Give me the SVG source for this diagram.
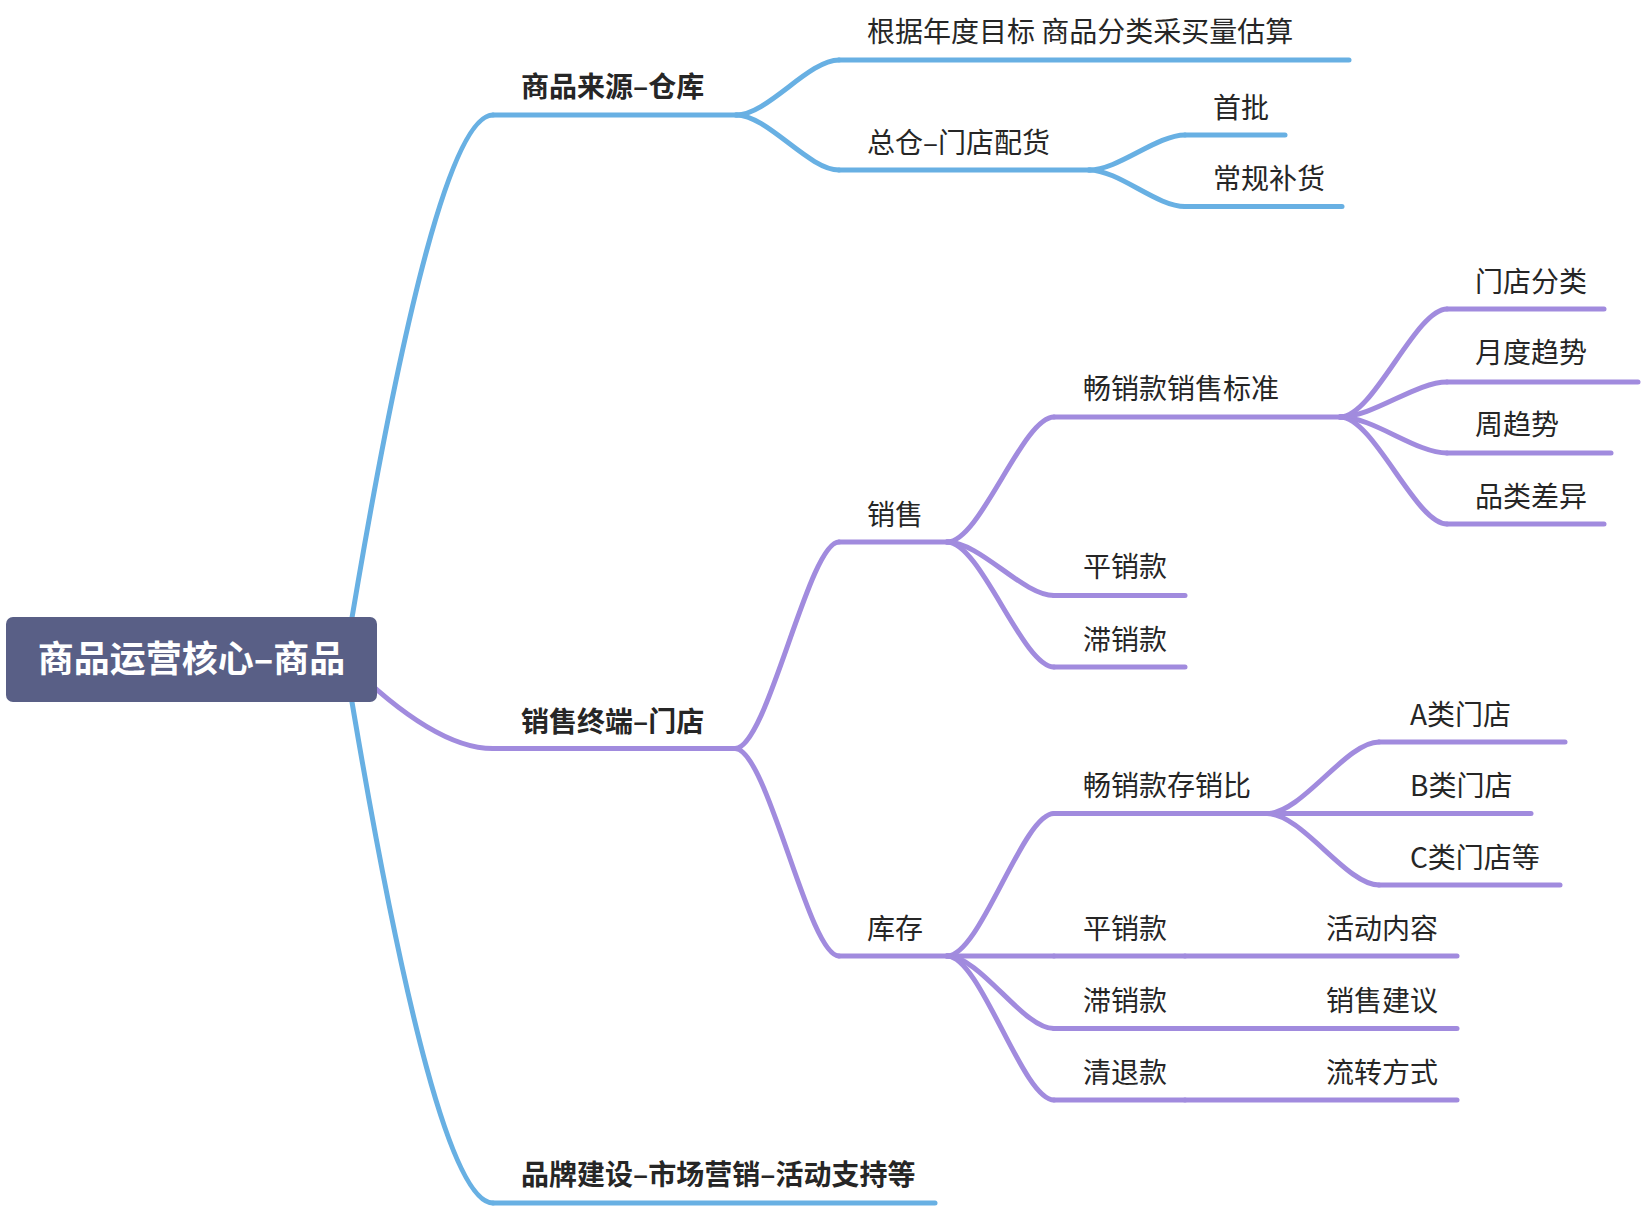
<svg xmlns="http://www.w3.org/2000/svg" width="1644" height="1208" viewBox="0 0 1644 1208">
<style>
text{font-family:"Noto Sans CJK SC","Noto Sans",sans-serif;font-size:28px;fill:#262626}
.b{font-weight:bold}
.root{font-size:36px;font-weight:bold;fill:#ffffff}
.cb{fill:none;stroke:#68B0E3;stroke-width:5;stroke-linecap:round}
.cp{fill:none;stroke:#A18BDE;stroke-width:5;stroke-linecap:round}
</style>
<rect width="1644" height="1208" fill="#ffffff"/>
<g id="connectors">
<path class="cb" d="M345 660 Q434 115 493 115"/>
<path class="cb" d="M345 660 Q434 1203 493 1203"/>
<path class="cb" d="M736 115 C767.6 115 808.4 60 839 60"/>
<path class="cb" d="M736 115 C767.6 115 808.4 170 839 170"/>
<path class="cb" d="M1089 170 C1118.5 170 1156.5 135 1185 135"/>
<path class="cb" d="M1089 170 C1118.5 170 1156.5 206.6 1185 206.6"/>
<path class="cp" d="M345 660 Q434 748.6 493 748.6"/>
<path class="cp" d="M735 748.6 C767.6 748.6 808.4 542 839 542"/>
<path class="cp" d="M735 748.6 C767.6 748.6 808.4 956 839 956"/>
<path class="cp" d="M947 542 C980.5 542 1022.5 417 1054 417"/>
<path class="cp" d="M947 542 C980.5 542 1022.5 595.5 1054 595.5"/>
<path class="cp" d="M947 542 C980.5 542 1022.5 667 1054 667"/>
<path class="cp" d="M1340 417 C1373.5 417 1415.5 309 1447 309"/>
<path class="cp" d="M1340 417 C1373.5 417 1415.5 382 1447 382"/>
<path class="cp" d="M1340 417 C1373.5 417 1415.5 453 1447 453"/>
<path class="cp" d="M1340 417 C1373.5 417 1415.5 524 1447 524"/>
<path class="cp" d="M947 956 C980.5 956 1022.5 813.6 1054 813.6"/>
<path class="cp" d="M947 956 L1054 956"/>
<path class="cp" d="M947 956 C980.5 956 1022.5 1028.6 1054 1028.6"/>
<path class="cp" d="M947 956 C980.5 956 1022.5 1100 1054 1100"/>
<path class="cp" d="M1267 813.6 C1302 813.6 1346 742 1379 742"/>
<path class="cp" d="M1267 813.6 L1379 813.6"/>
<path class="cp" d="M1267 813.6 C1302 813.6 1346 885 1379 885"/>
</g>
<g id="root">
<rect x="6" y="617" width="371" height="85" rx="7" fill="#595F86"/>
<text class="root" x="191.5" y="672" text-anchor="middle">商品运营核心–商品</text>
</g>
<g id="n-source">
<line class="cb" x1="493" y1="115" x2="737" y2="115"/>
<text class="b" x="521" y="97">商品来源–仓库</text>
</g>
<g id="n-estimate">
<line class="cb" x1="839" y1="60" x2="1349" y2="60"/>
<text x="867" y="42">根据年度目标 商品分类采买量估算</text>
</g>
<g id="n-distrib">
<line class="cb" x1="839" y1="170" x2="1090" y2="170"/>
<text x="867" y="153">总仓–门店配货</text>
</g>
<g id="n-first">
<line class="cb" x1="1185" y1="135" x2="1285" y2="135"/>
<text x="1213" y="118">首批</text>
</g>
<g id="n-replen">
<line class="cb" x1="1185" y1="206.6" x2="1342" y2="206.6"/>
<text x="1213" y="189">常规补货</text>
</g>
<g id="n-brand">
<line class="cb" x1="493" y1="1203" x2="935" y2="1203"/>
<text class="b" x="521" y="1185">品牌建设–市场营销–活动支持等</text>
</g>
<g id="n-store">
<line class="cp" x1="493" y1="748.6" x2="737" y2="748.6"/>
<text class="b" x="521" y="732">销售终端–门店</text>
</g>
<g id="n-sales">
<line class="cp" x1="839" y1="542" x2="949" y2="542"/>
<text x="867" y="525">销售</text>
</g>
<g id="n-stock">
<line class="cp" x1="839" y1="956" x2="949" y2="956"/>
<text x="867" y="939">库存</text>
</g>
<g id="n-best-std">
<line class="cp" x1="1054" y1="417" x2="1342" y2="417"/>
<text x="1083" y="399">畅销款销售标准</text>
</g>
<g id="n-store-class">
<line class="cp" x1="1447" y1="309" x2="1604" y2="309"/>
<text x="1475" y="292">门店分类</text>
</g>
<g id="n-month">
<line class="cp" x1="1447" y1="382" x2="1638" y2="382"/>
<text x="1475" y="363">月度趋势</text>
</g>
<g id="n-week">
<line class="cp" x1="1447" y1="453" x2="1611" y2="453"/>
<text x="1475" y="435">周趋势</text>
</g>
<g id="n-category">
<line class="cp" x1="1447" y1="524" x2="1604" y2="524"/>
<text x="1475" y="507">品类差异</text>
</g>
<g id="n-sales-normal">
<line class="cp" x1="1054" y1="595.5" x2="1185" y2="595.5"/>
<text x="1083" y="577">平销款</text>
</g>
<g id="n-sales-slow">
<line class="cp" x1="1054" y1="667" x2="1185" y2="667"/>
<text x="1083" y="650">滞销款</text>
</g>
<g id="n-best-ratio">
<line class="cp" x1="1054" y1="813.6" x2="1269" y2="813.6"/>
<text x="1083" y="796">畅销款存销比</text>
</g>
<g id="n-a">
<line class="cp" x1="1379" y1="742" x2="1565" y2="742"/>
<text x="1410" y="725">A类门店</text>
</g>
<g id="n-b">
<line class="cp" x1="1379" y1="813.6" x2="1531" y2="813.6"/>
<text x="1410" y="796">B类门店</text>
</g>
<g id="n-c">
<line class="cp" x1="1379" y1="885" x2="1560" y2="885"/>
<text x="1410" y="868">C类门店等</text>
</g>
<g id="n-stock-normal">
<line class="cp" x1="1054" y1="956" x2="1185" y2="956"/>
<text x="1083" y="939">平销款</text>
</g>
<g id="n-activity">
<line class="cp" x1="1185" y1="956" x2="1457" y2="956"/>
<text x="1326" y="939">活动内容</text>
</g>
<g id="n-stock-slow">
<line class="cp" x1="1054" y1="1028.6" x2="1185" y2="1028.6"/>
<text x="1083" y="1011">滞销款</text>
</g>
<g id="n-advice">
<line class="cp" x1="1185" y1="1028.6" x2="1457" y2="1028.6"/>
<text x="1326" y="1011">销售建议</text>
</g>
<g id="n-clear">
<line class="cp" x1="1054" y1="1100" x2="1185" y2="1100"/>
<text x="1083" y="1083">清退款</text>
</g>
<g id="n-flow">
<line class="cp" x1="1185" y1="1100" x2="1457" y2="1100"/>
<text x="1326" y="1083">流转方式</text>
</g>
</svg>
